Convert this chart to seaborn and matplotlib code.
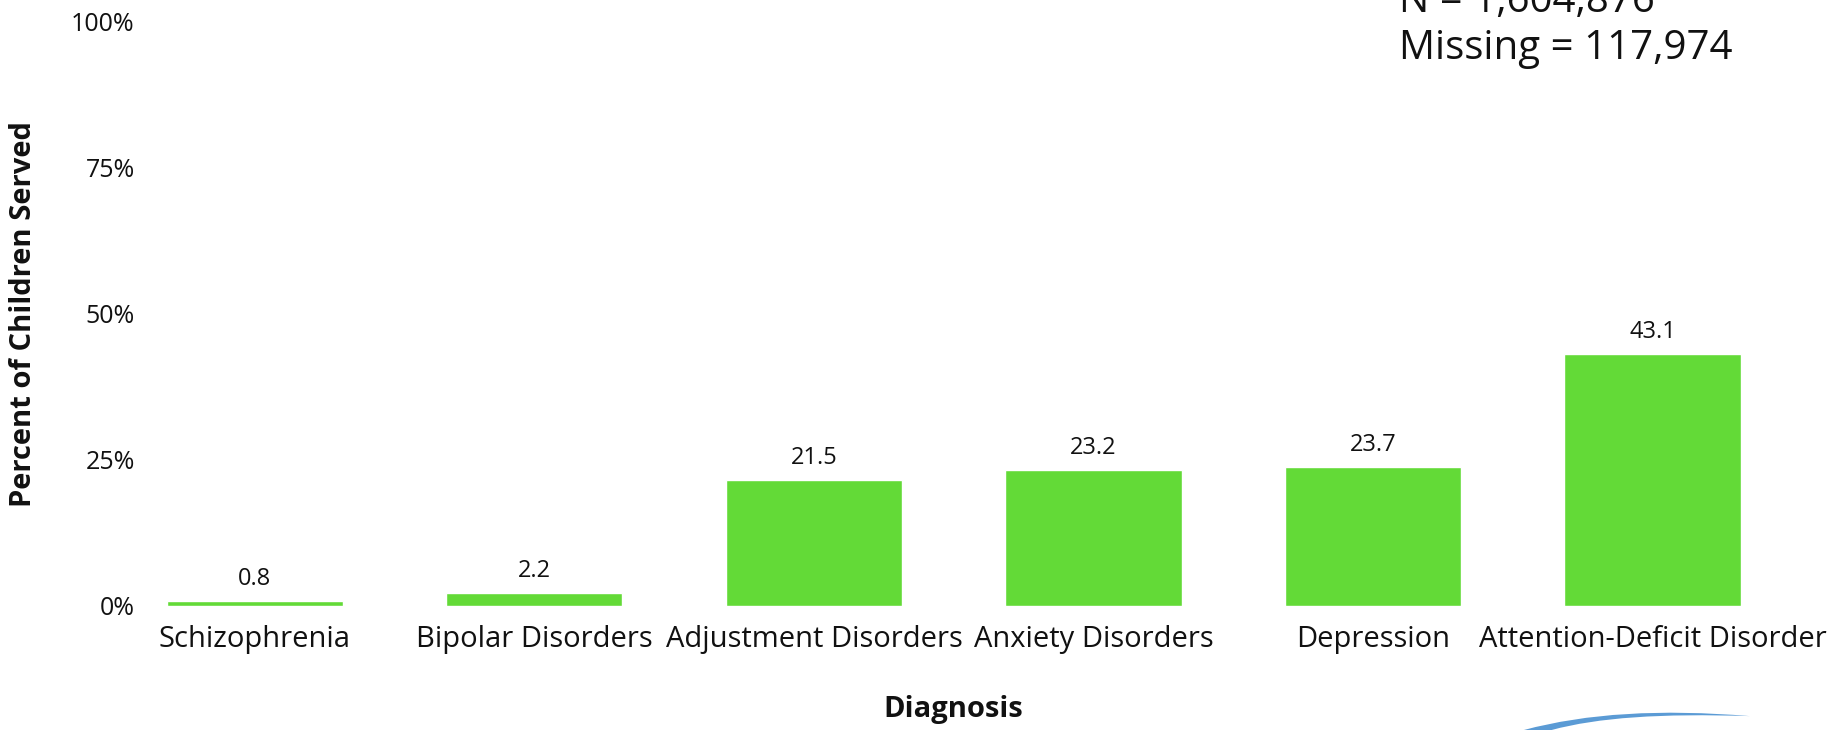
import matplotlib
matplotlib.use("Agg")
import matplotlib.pyplot as plt
import seaborn as sns
import pandas as pd
from matplotlib.path import Path
from matplotlib.patches import PathPatch

# data
diagnoses = ["Schizophrenia", "Bipolar Disorders", "Adjustment Disorders",
             "Anxiety Disorders", "Depression", "Attention-Deficit Disorder"]
percents = [0.8, 2.2, 21.5, 23.2, 23.7, 43.1]
y_ticks = [0, 25, 50, 75, 100]
note_lines = ["N = 1,604,876", "Missing = 117,974"]

BAR_GREEN = "#63DA37"
INK = "#111111"

sns.set_theme(style="white")
plt.rcParams["font.family"] = ["Open Sans", "DejaVu Sans"]

df = pd.DataFrame({"Diagnosis": diagnoses, "Percent": percents})

fig = plt.figure(figsize=(18.45, 7.3), dpi=100)
ax = fig.add_axes([0.079, 0.170, 0.897, 0.800])

sns.barplot(data=df, x="Diagnosis", y="Percent", color=BAR_GREEN,
            width=0.63, saturation=1, ax=ax)

for p, v in zip(ax.patches, percents):
    ax.text(p.get_x() + p.get_width() / 2, v + 1.8, f"{v:.1f}",
            ha="center", va="bottom", fontsize=17, color=INK)

ax.set_ylim(0, 100)
ax.set_xlim(-0.39, 5.53)
ax.set_yticks(y_ticks)
ax.set_yticklabels([f"{t}%" for t in y_ticks], fontsize=18, color=INK)
ax.tick_params(axis="x", labelsize=21, colors=INK, pad=14, length=0)
ax.tick_params(axis="y", pad=8, length=0)
ax.set_xlabel("Diagnosis", fontsize=21, fontweight="bold", color=INK)
ax.set_ylabel("Percent of Children Served", fontsize=21, fontweight="bold", color=INK)
ax.xaxis.set_label_coords(0.488, -0.178)
ax.yaxis.set_label_coords(-0.074, 0.50)
ax.xaxis.label.set_va("center")
ax.yaxis.label.set_va("center")
for s in ax.spines.values():
    s.set_visible(False)

# N / missing note (top line runs off the top edge, as in the source)
fig.text(0.758, 0.998, note_lines[0], fontsize=29, ha="left", va="center", color=INK)
fig.text(0.758, 0.933, note_lines[1], fontsize=29, ha="left", va="center", color=INK)

# partial logo swoosh at bottom right
verts = [(0.826, 0.0), (0.86, 0.023), (0.90, 0.029), (0.9485, 0.019),
         (0.90, 0.023), (0.866, 0.017), (0.841, 0.0), (0.826, 0.0)]
codes = [Path.MOVETO, Path.CURVE4, Path.CURVE4, Path.CURVE4,
         Path.CURVE4, Path.CURVE4, Path.CURVE4, Path.CLOSEPOLY]
fig.patches.append(PathPatch(Path(verts, codes), transform=fig.transFigure,
                             facecolor="#5B9BD5", edgecolor="none"))

fig.savefig("out.png", dpi=100)
plt.close(fig)
